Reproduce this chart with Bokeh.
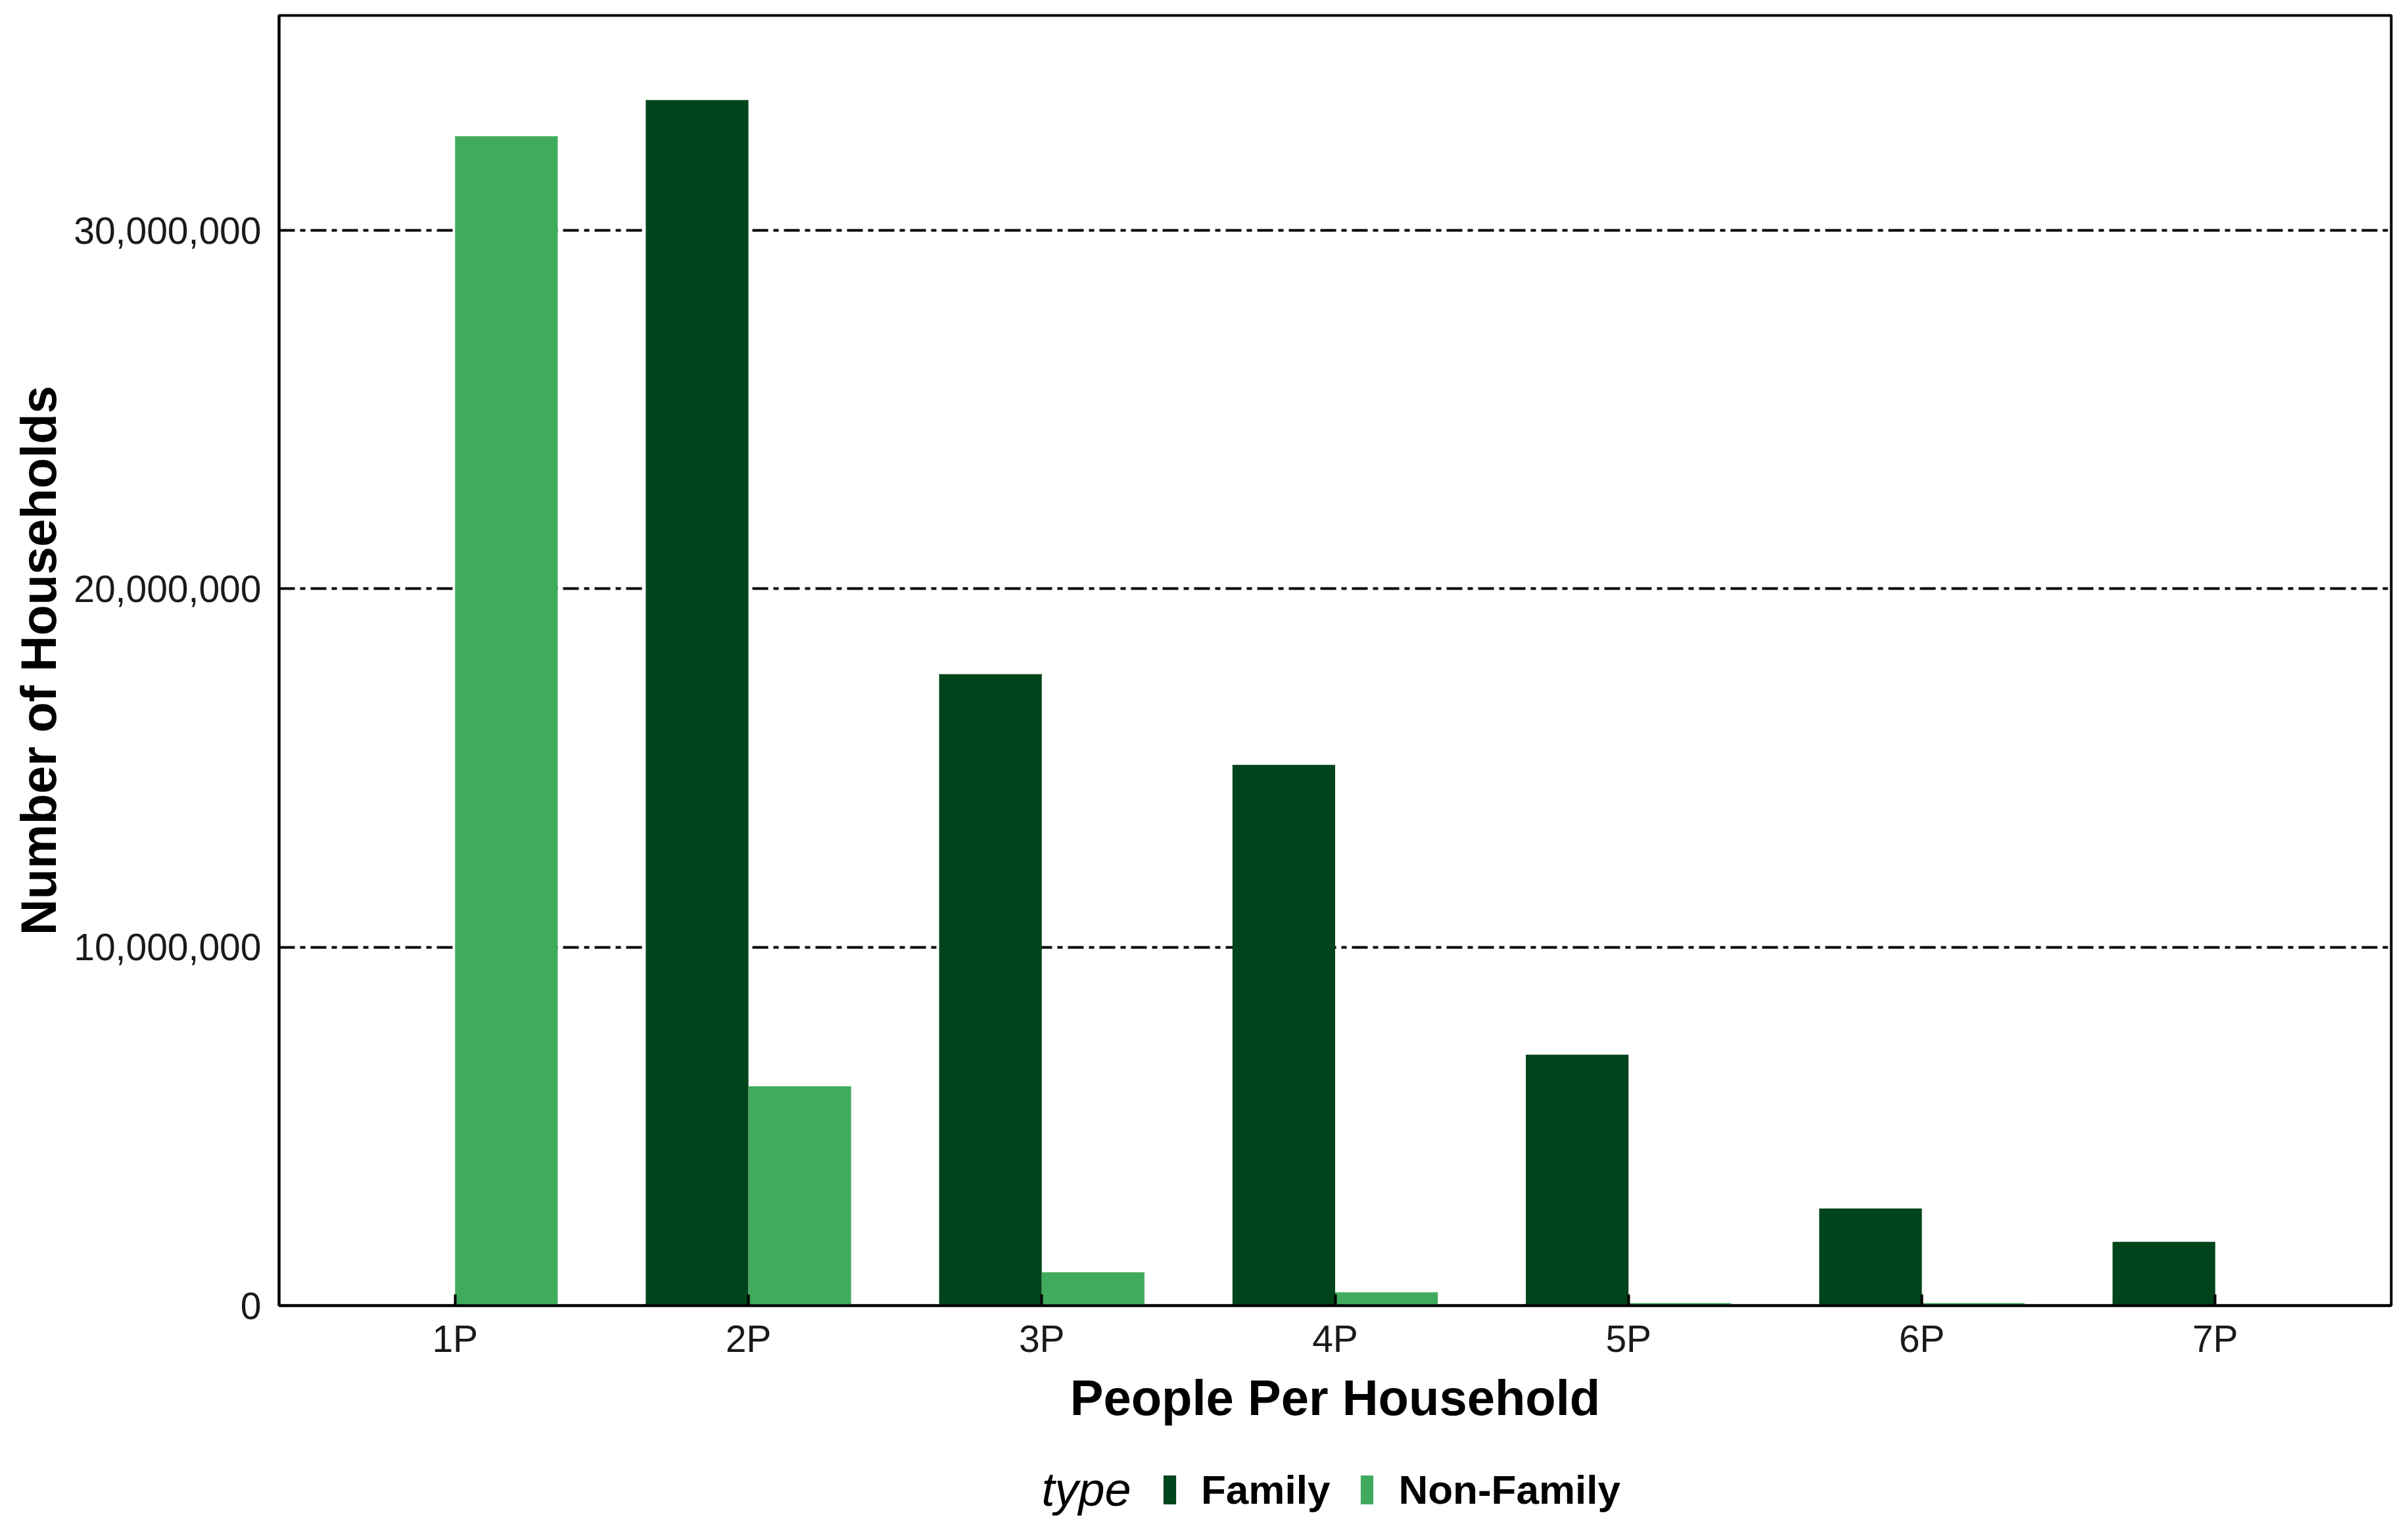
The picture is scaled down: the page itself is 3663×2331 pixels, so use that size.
from bokeh.plotting import figure
from bokeh.layouts import column
from bokeh.models import (ColumnDataSource, Range1d, FixedTicker, NumeralTickFormatter,
                          Legend, LegendItem, Label)
from bokeh.transform import dodge
from bokeh.embed import file_html
from bokeh.resources import INLINE

# ---- data ----
categories = ["1P", "2P", "3P", "4P", "5P", "6P", "7P"]
family = [0, 33640000, 17620000, 15090000, 7000000, 2710000, 1780000]
non_family = [32630000, 6120000, 930000, 370000, 70000, 70000, 0]
y_ticks = [0, 10000000, 20000000, 30000000]
series = ["Family", "Non-Family"]
colors = ["#00441B", "#41AB5D"]
x_title = "People Per Household"
y_title = "Number of Households"
legend_title = "type"

FONT = "Liberation Sans"
W = 3647
H_MAIN = 2200
H_LEG = 115
pos = list(range(1, len(categories) + 1))
bar_w = 0.35

src = ColumnDataSource(dict(pos=pos, cat=categories, family=family, non_family=non_family))

p = figure(width=W, height=H_MAIN, output_backend="svg", toolbar_location=None,
           x_range=Range1d(0.4, 7.6), y_range=Range1d(0, 36000000),
           min_border_left=424, min_border_right=10, min_border_top=23, min_border_bottom=214,
           background_fill_color="white", border_fill_color="white")

r1 = p.vbar(x=dodge("pos", -bar_w / 2, range=p.x_range), top="family", width=bar_w,
            source=src, fill_color=colors[0], line_color=None)
r2 = p.vbar(x=dodge("pos", bar_w / 2, range=p.x_range), top="non_family", width=bar_w,
            source=src, fill_color=colors[1], line_color=None)

# frame
p.outline_line_color = "black"
p.outline_line_width = 4
p.outline_line_alpha = 1

# x axis
xa = p.xaxis[0]
xa.ticker = FixedTicker(ticks=pos)
xa.major_label_overrides = {i: c for i, c in zip(pos, categories)}
xa.axis_line_color = "black"
xa.axis_line_width = 4
xa.major_tick_in = 17
xa.major_tick_out = 0
xa.major_tick_line_width = 4
xa.major_tick_line_color = "black"
xa.minor_tick_line_color = None
xa.major_label_standoff = 18
xa.major_label_text_font = FONT
xa.major_label_text_font_size = "57px"
xa.major_label_text_color = "#1a1a1a"
xa.axis_label = x_title
xa.axis_label_text_font = FONT
xa.axis_label_text_font_style = "bold"
xa.axis_label_text_font_size = "76px"
xa.axis_label_text_color = "black"
xa.axis_label_standoff = 12

# y axis
ya = p.yaxis[0]
ya.ticker = FixedTicker(ticks=y_ticks)
ya.formatter = NumeralTickFormatter(format="0,0")
ya.axis_line_color = "black"
ya.axis_line_width = 4
ya.major_tick_line_color = None
ya.major_tick_in = 0
ya.major_tick_out = 0
ya.minor_tick_line_color = None
ya.major_label_standoff = 27
ya.major_label_text_font = FONT
ya.major_label_text_font_size = "57px"
ya.major_label_text_color = "#1a1a1a"
ya.axis_label = y_title
ya.axis_label_text_font = FONT
ya.axis_label_text_font_style = "bold"
ya.axis_label_text_font_size = "76px"
ya.axis_label_text_color = "black"
ya.axis_label_standoff = 8

# grid
p.xgrid.visible = False
p.ygrid.ticker = FixedTicker(ticks=y_ticks)
p.ygrid.grid_line_color = "black"
p.ygrid.grid_line_width = 4
p.ygrid.grid_line_dash = "24 8 8 8"

# ---- legend strip below the chart (frame aligned with the chart frame) ----
pl = figure(width=W, height=H_LEG, output_backend="svg", toolbar_location=None,
            x_range=Range1d(0, 10), y_range=Range1d(0, 10),
            min_border_left=424, min_border_right=10, min_border_top=0, min_border_bottom=0,
            background_fill_color="white", border_fill_color="white")
pl.axis.visible = False
pl.grid.visible = False
pl.outline_line_color = None

# legend key proxies: one bar each, placed entirely outside the visible range
leg_src = ColumnDataSource(dict(x=[-100], top=[-50], bottom=[-60]))
k1 = pl.vbar(x="x", top="top", bottom="bottom", width=1, source=leg_src,
             fill_color=colors[0], line_color=None)
k2 = pl.vbar(x="x", top="top", bottom="bottom", width=1, source=leg_src,
             fill_color=colors[1], line_color=None)

legend = Legend(items=[LegendItem(label=series[0], renderers=[k1]),
                       LegendItem(label=series[1], renderers=[k2])],
                orientation="horizontal", location=(1343, 13),
                glyph_width=24, glyph_height=55, label_standoff=36, spacing=44,
                padding=0, margin=0, border_line_color=None, background_fill_alpha=0,
                label_text_font=FONT, label_text_font_style="bold",
                label_text_font_size="62px", label_text_color="black")
pl.add_layout(legend)

pl.add_layout(Label(x=1160, y=50, x_units="screen", y_units="screen", text=legend_title,
                    text_font=FONT, text_font_style="italic", text_font_size="72px",
                    text_color="black", text_baseline="middle"))

layout = column(p, pl, spacing=0)
open("out.html", "w").write(file_html(layout, INLINE))
